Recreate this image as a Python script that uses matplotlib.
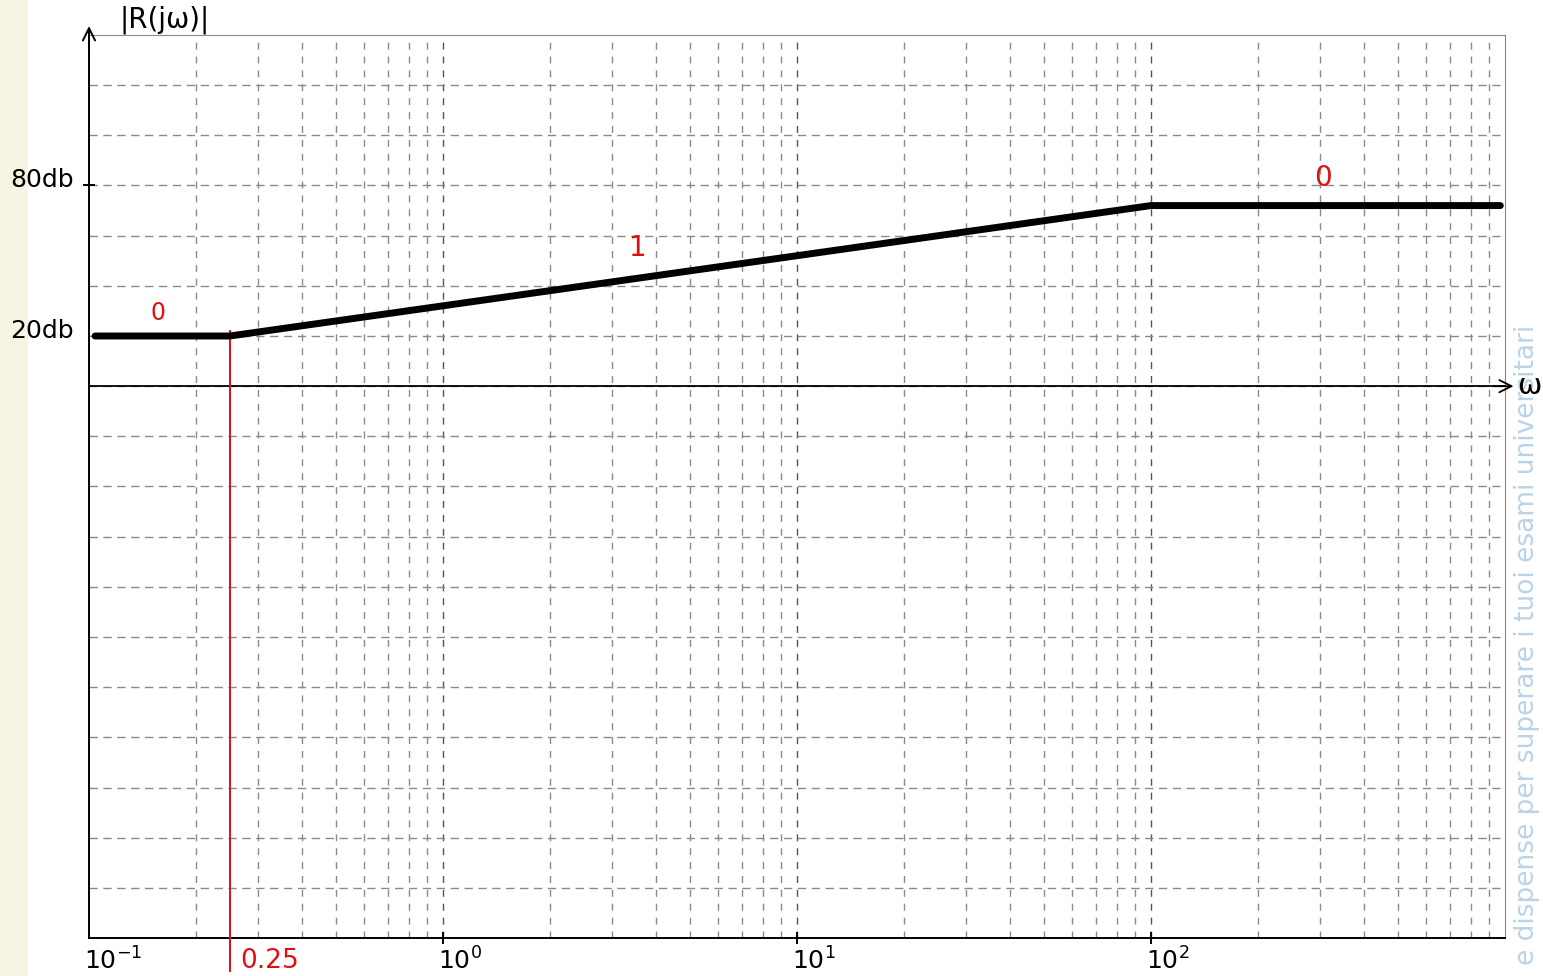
import matplotlib
matplotlib.use("Agg")
import matplotlib.pyplot as plt
from matplotlib.patches import Rectangle

# asymptotic Bode magnitude, |R(jw)| in dB
w_pts = [0.104, 0.25, 100, 970]
mag_db = [20, 20, 72, 72]
slope_labels = ["0", "1", "0"]

# axis labels written on the sheet
y_marks = [20, 80]
y_mark_labels = ["20db", "80db"]
x_decades = [0.1, 1, 10, 100]
x_dec_labels = [r"$10^{-1}$", r"$10^{0}$", r"$10^{1}$", r"$10^{2}$"]
w_break = 0.25

fig = plt.figure(figsize=(15.43, 9.76), dpi=100)

# page decorations (behind everything)
fig.patches.append(Rectangle((0, 0), 27 / 1543, 1, transform=fig.transFigure,
                             color="#f7f4e4", zorder=-10))
fig.text(1527 / 1543, 11 / 976, "e dispense per superare i tuoi esami universitari",
         rotation=90, fontsize=19, color="#b9d3e8", ha="center", va="bottom",
         zorder=-5)

ax = fig.add_axes([89 / 1543, 38 / 976, (1505 - 89) / 1543, (938 - 35) / 976])
ax.set_xscale("log")
ax.set_xlim(0.1, 1000)
ax.set_ylim(-220, 140)

# log paper grid
for d in [0.1, 1, 10, 100]:
    for k in range(1, 10):
        v = d * k
        if v <= 0.1:
            continue
        major = k == 1
        ax.axvline(v, color="#555555" if major else "#8a8a8a", lw=1.0,
                   dashes=(5, 5), zorder=1)
for y in range(-200, 140, 20):
    ax.axhline(y, color="#8a8a8a", lw=1.0, dashes=(6, 4), zorder=1)

# spines
for s in ["top", "right"]:
    ax.spines[s].set_color("#888888")
    ax.spines[s].set_linewidth(0.8)
ax.spines["left"].set_linewidth(1.4)
ax.spines["bottom"].set_linewidth(1.4)

ax.set_xticks([1, 10, 100])
ax.set_xticklabels([])
ax.xaxis.set_minor_locator(matplotlib.ticker.NullLocator())
ax.set_yticks([80])
ax.set_yticklabels([])
ax.tick_params(axis="both", direction="inout", length=9, width=1.4, color="black")

# 0 dB axis with arrow
ax.plot([0.1, 1000], [0, 0], color="black", lw=1.3, zorder=3)
ax.annotate("", xy=(1.008, 0), xytext=(0.99, 0),
            xycoords=("axes fraction", "data"),
            arrowprops=dict(arrowstyle="->", lw=1.3, color="black",
                            mutation_scale=22),
            annotation_clip=False)
ax.text(1.0085, 0, "ω", transform=ax.get_yaxis_transform(), fontsize=21,
        va="center", ha="left", clip_on=False)

# vertical axis arrow
ax.annotate("", xy=(0, 1.013), xytext=(0, 0.98), xycoords="axes fraction",
            arrowprops=dict(arrowstyle="->", lw=1.4, color="black",
                            mutation_scale=22),
            annotation_clip=False)
fig.text(120 / 1543, 1 - 20 / 976, "|R(jω)|", fontsize=20, va="center", ha="left")

# magnitude curve
ax.plot(w_pts, mag_db, color="black", lw=5, solid_capstyle="round", zorder=5)

# break frequency
ax.plot([w_break, w_break], [-233, 22], color="#e01010", lw=1.4, zorder=4,
        clip_on=False)
ax.text(0.268, -229, "0.25", color="#e01010", fontsize=19, va="center",
        ha="left", clip_on=False)

# slopes
ax.text(0.157, 29, slope_labels[0], color="#e01010", fontsize=17, ha="center", va="center")
ax.text(3.55, 55, slope_labels[1], color="#e01010", fontsize=20, ha="center", va="center")
ax.text(307, 83, slope_labels[2], color="#e01010", fontsize=20, ha="center", va="center")

# dB marks
for yv, lab in zip(y_marks, y_mark_labels):
    ax.text(-0.011, yv + 2, lab, transform=ax.get_yaxis_transform(),
            fontsize=18, ha="right", va="center", clip_on=False)

# decade labels
for xv, lab in zip(x_decades, x_dec_labels):
    ax.text(xv * 0.97, -229, lab, fontsize=18, ha="left", va="center",
            clip_on=False)

fig.savefig("out.png", dpi=100)
